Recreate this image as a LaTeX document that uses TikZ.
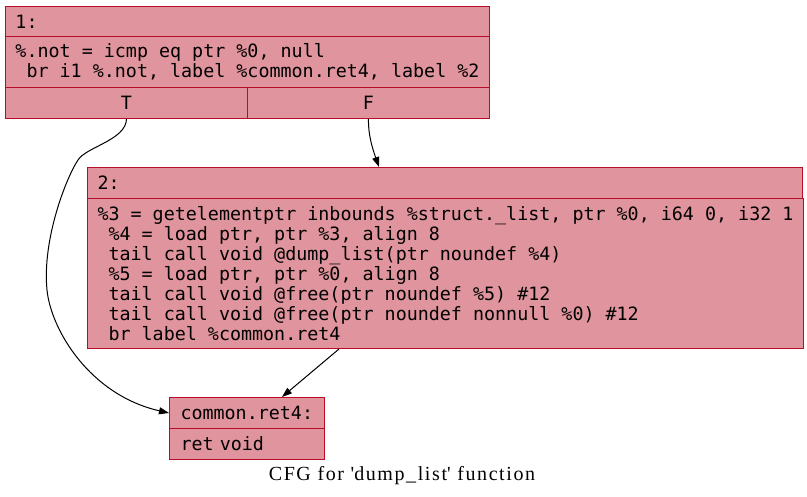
\documentclass[tikz,border=0pt]{standalone}
\usepackage{fontspec}
\usepackage{tikz}
\usetikzlibrary{arrows.meta}
\newfontfamily\irfont{DejaVu Sans Mono}
\newfontfamily\capfont[LetterSpace=8]{Liberation Serif}
\definecolor{bfill}{RGB}{224,148,157}
\definecolor{bline}{RGB}{183,13,40}
\tikzset{blk/.style={draw=bline,fill=bfill,line width=1pt,anchor=north west,inner xsep=10pt,inner ysep=0pt,align=left,font=\irfont\fontsize{18.35}{20}\selectfont}}
\tikzset{ttl/.style={anchor=base,font=\capfont\fontsize{20}{22}\selectfont}}
\tikzset{>={Triangle[length=10pt,width=7pt]}}

\begin{document}
\begin{tikzpicture}[x=1pt,y=-1pt]
        \useasboundingbox (0,0) rectangle (807,496);
        \node[blk,text width=464pt,minimum height=30pt] (b1h) at (5,6) {1:};
        \node[blk,minimum width=484pt,minimum height=51pt] (b1b) at (5,36) {\%.not = icmp eq ptr \%0, null\\~br i1 \%.not, label \%common.ret4, label \%2};
        \node[blk,align=center,minimum width=242pt,minimum height=31pt] (b1t) at (5,87) {T};
        \node[blk,align=center,minimum width=242pt,minimum height=31pt] (b1f) at (247,87) {F};
        \node[blk,text width=695pt,minimum height=31pt] (b2h) at (87,167) {2:};
        \node[blk,minimum width=715pt,minimum height=150pt] (b2b) at (87,198) {\%3 = getelementptr inbounds \%struct.\_list, ptr \%0, i64 0, i32 1\\~\%4 = load ptr, ptr \%3, align 8\\~tail call void @dump\_list(ptr noundef \%4)\\~\%5 = load ptr, ptr \%0, align 8\\~tail call void @free(ptr noundef \%5) \#12\\~tail call void @free(ptr noundef nonnull \%0) \#12\\~br label \%common.ret4};
        \node[blk,inner xsep=11pt,text width=133pt,minimum height=31pt] (reth) at (169,397) {common.ret4:};
        \node[blk,inner xsep=11pt,text width=133pt,minimum height=31pt] (retb) at (169,428) {ret void};
        \node[ttl] (title) at (402,480) {CFG for \textquotesingle dump\_list\textquotesingle{} function};
        \draw[->,line width=1pt] (b1t.south) .. controls (126,140) and (86,147) .. (78,160) .. controls (66,178) and (42,240) .. (47,290) .. controls (51,330) and (90,395) .. (reth.west);
        \draw[->,line width=1pt] (b1f.south) .. controls (368,135) and (373,150) .. ([xshift=292pt]b2h.north west);
        \draw[->,line width=1pt] ([xshift=252pt]b2b.south west) -- ([xshift=113pt]reth.north west);
      \end{tikzpicture}
\end{document}
